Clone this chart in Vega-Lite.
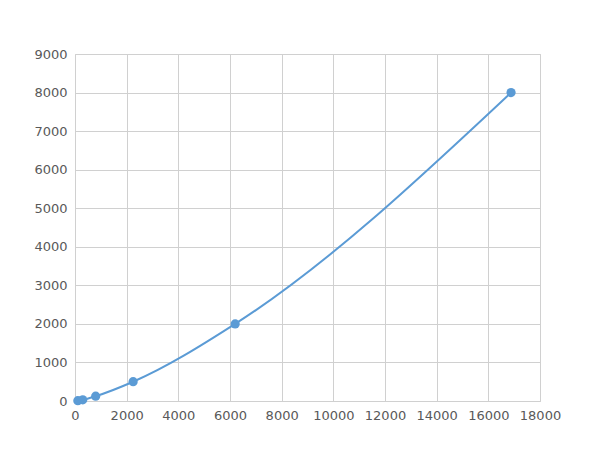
{
  "$schema": "https://vega.github.io/schema/vega-lite/v6.json",
  "width": 465,
  "height": 347,
  "autosize": "none",
  "padding": {"left": 75, "top": 54, "right": 60, "bottom": 49},
  "background": "white",
  "data": {
    "values": [
      {"x": 110, "y": 8},
      {"x": 300, "y": 31},
      {"x": 800, "y": 125},
      {"x": 2250, "y": 500},
      {"x": 6200, "y": 2000},
      {"x": 16880, "y": 8000}
    ]
  },
  "encoding": {
    "x": {
      "field": "x",
      "type": "quantitative",
      "scale": {"domain": [0, 18000], "nice": false},
      "axis": {"title": null, "values": [0, 2000, 4000, 6000, 8000, 10000, 12000, 14000, 16000, 18000], "format": "d", "labelOverlap": false, "labelFlush": false}
    },
    "y": {
      "field": "y",
      "type": "quantitative",
      "scale": {"domain": [0, 9000], "nice": false},
      "axis": {"title": null, "values": [0, 1000, 2000, 3000, 4000, 5000, 6000, 7000, 8000, 9000], "format": "d", "labelOverlap": false, "labelFlush": false}
    }
  },
  "layer": [
    {"mark": {"type": "line", "interpolate": "monotone", "color": "#5B9BD5", "strokeWidth": 2}},
    {"mark": {"type": "point", "filled": true, "opacity": 1, "color": "#5B9BD5", "size": 85}}
  ],
  "config": {
    "view": {"stroke": "#D0D0D0", "strokeWidth": 1},
    "axis": {
      "grid": true,
      "gridColor": "#D0D0D0",
      "gridWidth": 1,
      "domain": false,
      "ticks": false,
      "labelColor": "#595959",
      "labelFont": "DejaVu Sans",
      "labelFontSize": 13,
      "labelPadding": 8
    }
  }
}
